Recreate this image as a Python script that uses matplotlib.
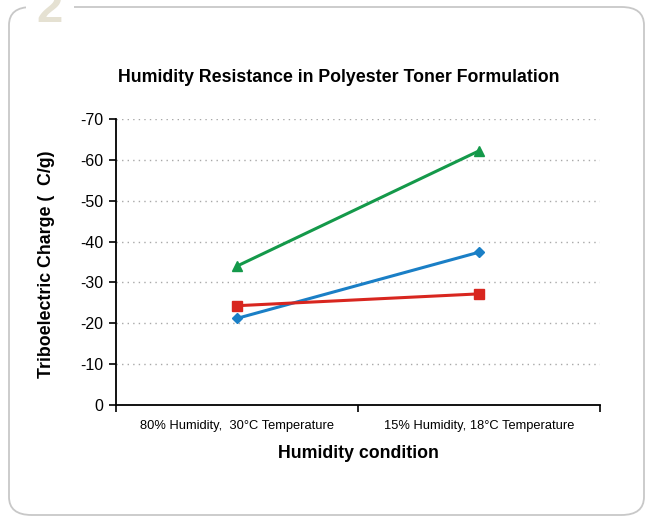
import numpy as np
import matplotlib.pyplot as plt
from matplotlib.patches import FancyBboxPatch, Rectangle

plt.rcParams['font.family'] = ['Liberation Sans', 'DejaVu Sans']

# Data
conditions = ['80% Humidity,  30°C Temperature', '15% Humidity, 18°C Temperature']
series_green = [-34.0, -62.2]
series_blue = [-21.2, -37.4]
series_red = [-24.3, -27.2]
y_ticks = [0, -10, -20, -30, -40, -50, -60, -70]

W, H = 647, 517


def main():
    fig = plt.figure(figsize=(W / 100, H / 100), dpi=100)

    # Rounded frame around the panel
    frame = FancyBboxPatch((9 / W, 2 / H), 635 / W, 508 / H,
                           boxstyle='round,pad=0,rounding_size=0.035',
                           transform=fig.transFigure, fill=False,
                           edgecolor='#c8c8c8', linewidth=1.3, zorder=0)
    fig.patches.append(frame)
    # gap in the top edge for the panel number
    fig.patches.append(Rectangle((26 / W, 1 - 16 / H), 48 / W, 16 / H,
                                 transform=fig.transFigure, facecolor='white',
                                 edgecolor='none', zorder=1))
    fig.text(50 / W, 1 - 22 / H, '2', fontsize=34, fontweight='bold',
             color='#e5e1d2', ha='center', va='baseline', zorder=2)

    ax = fig.add_axes([116 / W, 112 / H, 484 / W, 286 / H])
    x = np.arange(len(conditions))

    ax.plot(x, series_green, color='#14994a', linewidth=2.2, marker='^', markersize=7)
    ax.plot(x, series_blue, color='#1a7fc6', linewidth=2.2, marker='D', markersize=5)
    ax.plot(x, series_red, color='#d8261f', linewidth=2.2, marker='s', markersize=7)

    ax.set_xlim(-0.5, 1.5)
    ax.set_ylim(0, -70)
    ax.set_yticks(y_ticks)
    ax.set_yticklabels([str(v) if v == 0 else '-' + str(-v) for v in y_ticks], fontsize=11.5)
    ax.set_xticks(x)
    ax.set_xticklabels(conditions, fontsize=9.3)
    ax.tick_params(axis='x', length=0, pad=11)
    ax.set_xticks([-0.5, 0.5, 1.5], minor=True)
    ax.tick_params(axis='x', which='minor', length=5, width=1.2, direction='out')
    ax.tick_params(axis='y', length=5, width=1.2, direction='out', pad=4)

    ax.grid(axis='y', linestyle=(0, (1, 3)), color='#a8a8a8', linewidth=1)
    ax.set_axisbelow(True)
    for side in ['top', 'right']:
        ax.spines[side].set_visible(False)
    for side in ['left', 'bottom']:
        ax.spines[side].set_linewidth(1.3)

    # Title and axis labels placed like the reference
    fig.text(339 / W, 1 - 78 / H, 'Humidity Resistance in Polyester Toner Formulation',
             fontsize=12.8, fontweight='bold', ha='center', va='center')
    fig.text(358 / W, 1 - 454 / H, 'Humidity condition',
             fontsize=12.8, fontweight='bold', ha='center', va='center')
    fig.text(47 / W, 1 - 264 / H, 'Triboelectric Charge (  C/g)',
             fontsize=12.8, fontweight='bold', ha='center', va='center', rotation=90)

    fig.savefig('out.png', dpi=100)


if __name__ == '__main__':
    main()
